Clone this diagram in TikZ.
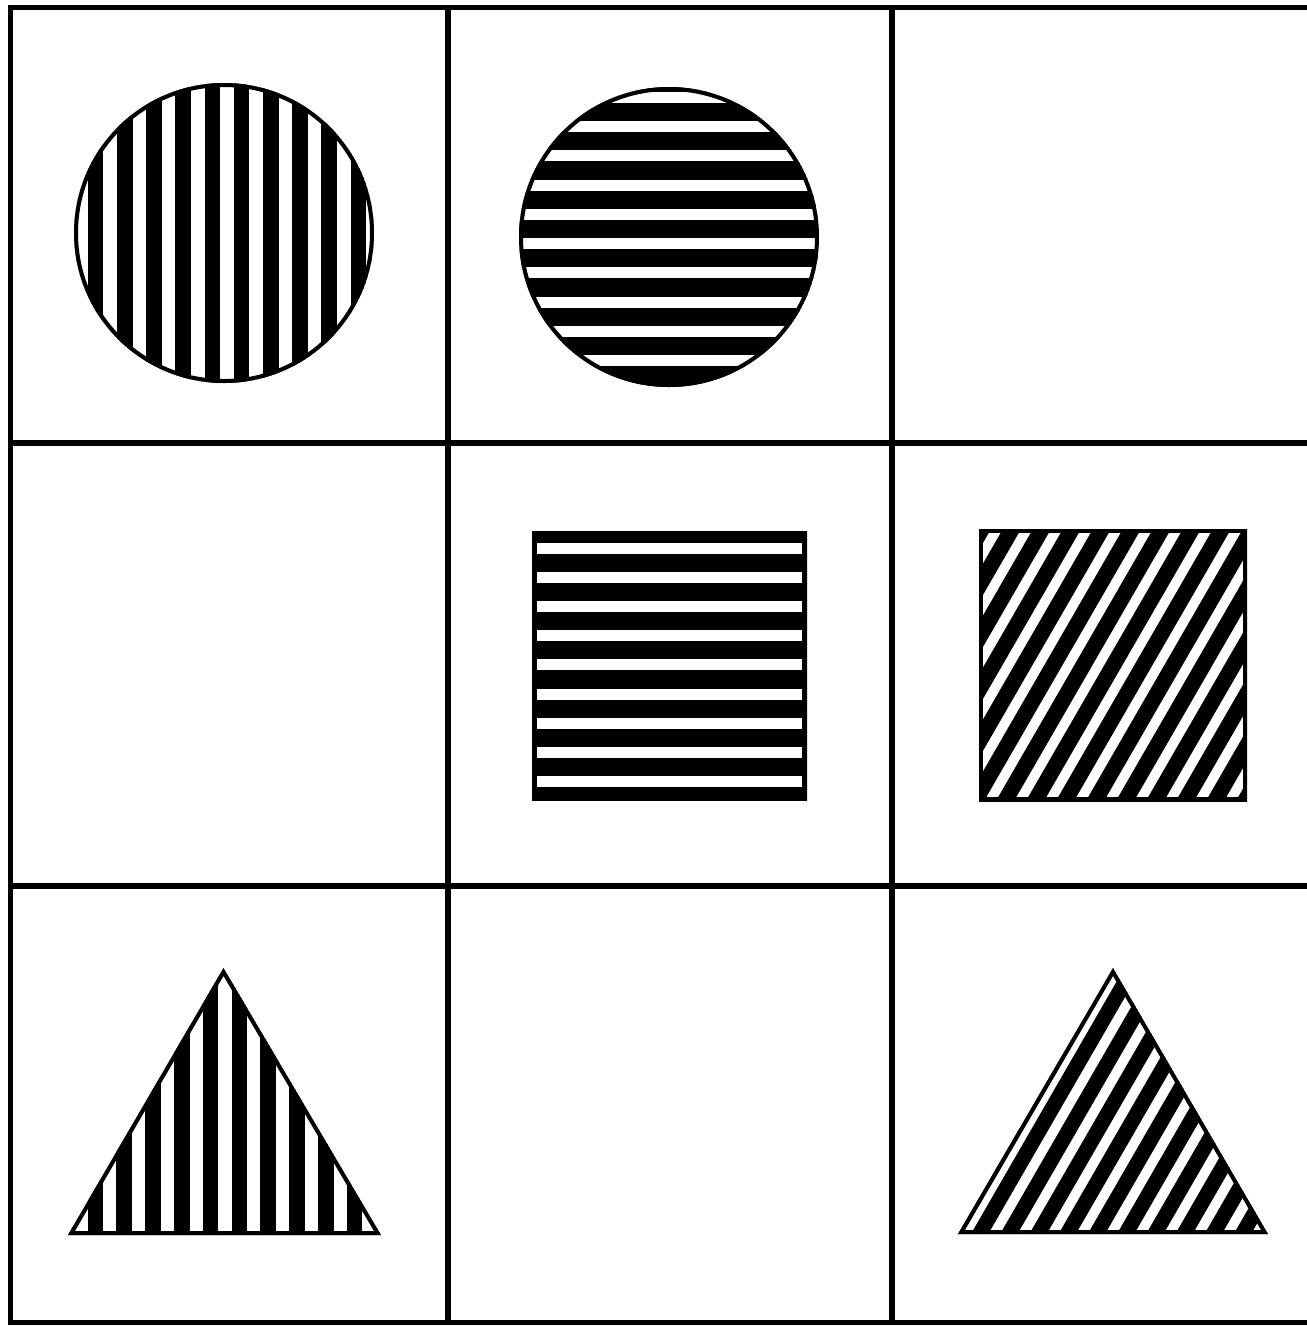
\documentclass[tikz,border=0pt]{standalone}
\tikzset{
    gridline/.style={line width=0.055cm},
    band/.style={white, line width=#1},
    rim/.style={line width=0.08cm}
}
\begin{document}
\begin{tikzpicture}[x=0.01cm, y=-0.01cm]
        \useasboundingbox (0,0) rectangle (1307,1326);

        % 1. Outer frame and cell lines (right edge is cut off)
        \draw[gridline] (1307,7.5) -- (10.5,7.5) -- (10.5,1322.5) -- (1307,1322.5);
        \foreach \x in {448,892}
            \draw[gridline] (\x,7.5) -- (\x,1322.5);
        \foreach \y in {443,886}
            \draw[gridline] (10.5,\y) -- (1307,\y);

        % 2. Circle, vertical bands (row 1, col 1)
        \begin{scope}
            \clip (224,233) circle [radius=150];
            \fill (224,233) circle [radius=150];
            \foreach \k in {0,...,10}
                \draw[band=0.135cm] ({81+29.2*\k},70) -- ({81+29.2*\k},400);
            \draw[rim] (224,233) circle [radius=150];
        \end{scope}

        % 3. Circle, horizontal bands (row 1, col 2)
        \begin{scope}
            \clip (669,237) circle [radius=150];
            \fill (669,237) circle [radius=150];
            \foreach \k in {0,...,9}
                \draw[band=0.11cm] (505,{97+29.33*\k}) -- (835,{97+29.33*\k});
            \draw[rim] (669,237) circle [radius=150];
        \end{scope}

        % 4. Square, horizontal bands (row 2, col 2)
        \begin{scope}
            \clip (532,531) rectangle (807,800);
            \fill (532,531) rectangle (807,800);
            \foreach \k in {0,...,8}
                \draw[band=0.11cm] (520,{548.3+29.17*\k}) -- (820,{548.3+29.17*\k});
            \draw[rim, line width=0.1cm] (532,531) rectangle (807,800);
        \end{scope}

        % 5. Square, slanted bands at 60 degrees (row 2, col 3)
        \begin{scope}
            \clip (979,529) rectangle (1247,801);
            \fill (979,529) rectangle (1247,801);
            \foreach \k in {-7,...,8}
                \draw[band=0.10cm] ({990+30*\k-28.9},851) -- ({990+30*\k+202},451);
            \draw[rim] (979,529) rectangle (1247,801);
        \end{scope}

        % 6. Triangle, vertical bands (row 3, col 1)
        \begin{scope}
            \clip (223.5,968) -- (381,1235) -- (68,1235) -- cycle;
            \fill (223.5,968) -- (381,1235) -- (68,1235) -- cycle;
            \foreach \k in {0,...,10}
                \draw[band=0.13cm] ({81+28.8*\k},950) -- ({81+28.8*\k},1250);
            \draw[rim] (223.5,968) -- (381,1235) -- (68,1235) -- cycle;
        \end{scope}

        % 7. Triangle, slanted bands parallel to left side (row 3, col 3)
        \begin{scope}
            \clip (1113,968) -- (1268,1234) -- (958,1234) -- cycle;
            \fill (1113,968) -- (1268,1234) -- (958,1234) -- cycle;
            \foreach \k in {0,...,10}
                \draw[band=0.10cm] ({965+29.2*\k-28.9},1284) -- ({965+29.2*\k+202},884);
            \draw[rim] (1113,968) -- (1268,1234) -- (958,1234) -- cycle;
        \end{scope}

    \end{tikzpicture}
\end{document}
